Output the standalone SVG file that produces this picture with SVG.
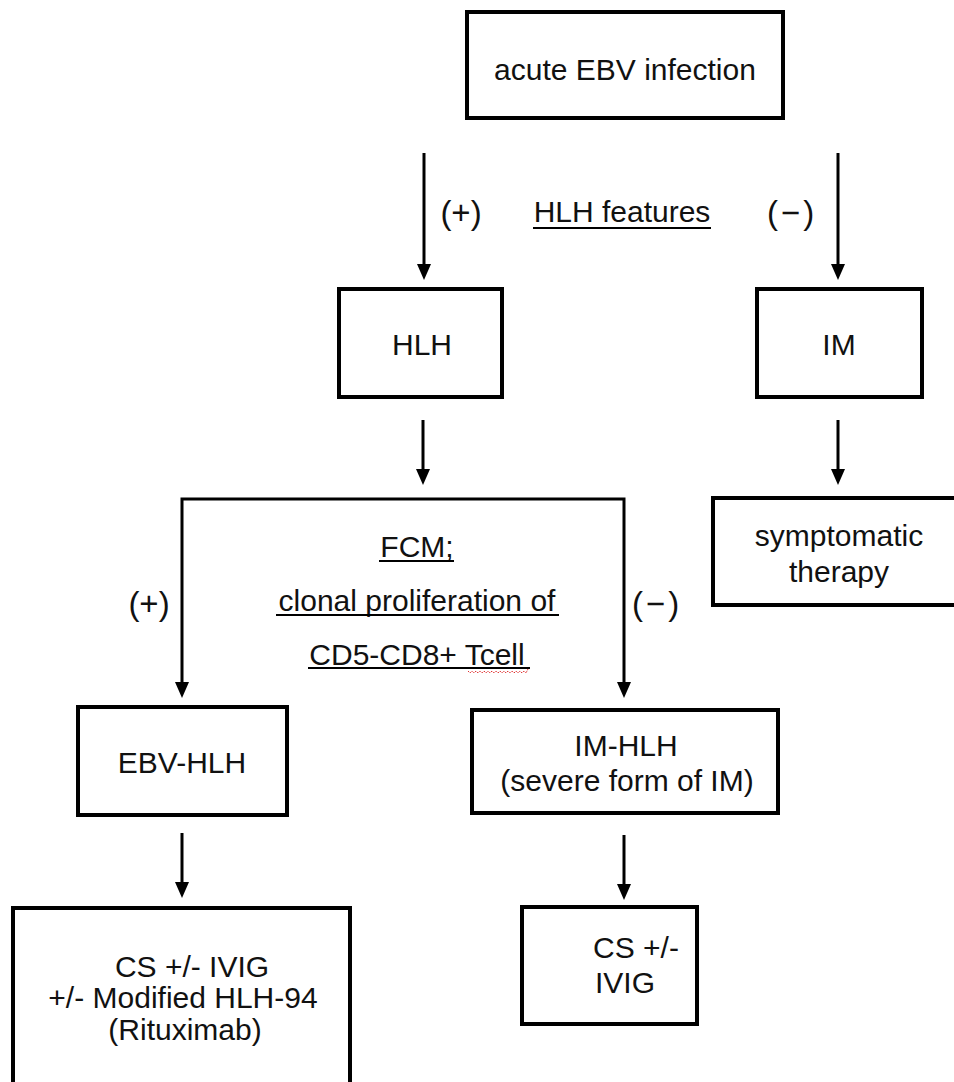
<svg xmlns="http://www.w3.org/2000/svg" width="954" height="1082" viewBox="0 0 954 1082">
<style>
.box{fill:#fff;stroke:#000;stroke-width:4}
.t{font-family:"Liberation Sans",Arial,Helvetica,sans-serif;font-size:30px;fill:#111;text-anchor:middle}
.lbl{font-family:"Liberation Sans",Arial,Helvetica,sans-serif;font-size:30px;fill:#111;text-anchor:middle}
.par{font-family:"Liberation Sans",Arial,Helvetica,sans-serif;font-size:33px;fill:#111;text-anchor:middle}
.c{fill:none;stroke:#000;stroke-width:3}
.ul{stroke:#000;stroke-width:2}
</style>
<defs>
<marker id="ah" viewBox="0 0 16 14" refX="8" refY="7" markerWidth="16" markerHeight="14" markerUnits="userSpaceOnUse" orient="auto-start-reverse">
<path d="M0,0 L16,7 L0,14 z" fill="#000"/>
</marker>
</defs>
<rect width="954" height="1082" fill="#fff"/>

<g id="connectors">
<line class="c" x1="424" y1="153" x2="424" y2="272" marker-end="url(#ah)"/>
<line class="c" x1="838" y1="153" x2="838" y2="272" marker-end="url(#ah)"/>
<line class="c" x1="423" y1="420" x2="423" y2="477" marker-end="url(#ah)"/>
<line class="c" x1="838" y1="420" x2="838" y2="477" marker-end="url(#ah)"/>
<path class="c" d="M182,690 V499 H624 V690" marker-start="url(#ah)" marker-end="url(#ah)"/>
<line class="c" x1="182" y1="833" x2="182" y2="890" marker-end="url(#ah)"/>
<line class="c" x1="624" y1="835" x2="624" y2="892" marker-end="url(#ah)"/>
</g>

<g id="labels">
<text class="par" x="461" y="224">(+)</text>
<text class="lbl" x="622" y="222">HLH features</text>
<line class="ul" x1="533" y1="228" x2="711" y2="228"/>
<text class="par" x="792" y="224" letter-spacing="3">(−)</text>
<text class="par" x="149" y="615">(+)</text>
<text class="par" x="657" y="615" letter-spacing="3">(−)</text>
<text class="lbl" x="417" y="557">FCM;</text>
<line class="ul" x1="379" y1="561" x2="454" y2="561"/>
<text class="lbl" x="417" y="611">clonal proliferation of</text>
<line class="ul" x1="276" y1="615" x2="559" y2="615"/>
<text class="lbl" x="417" y="665">CD5-CD8+ Tcell</text>
<line class="ul" x1="308" y1="668" x2="530" y2="668"/>
<path d="M468,671 l2,2 l2,-2 l2,2 l2,-2 l2,2 l2,-2 l2,2 l2,-2 l2,2 l2,-2 l2,2 l2,-2 l2,2 l2,-2 l2,2 l2,-2 l2,2 l2,-2 l2,2 l2,-2 l2,2 l2,-2 l2,2 l2,-2 l2,2 l2,-2 l2,2 l2,-2 l2,2 l2,-4" fill="none" stroke="#e03030" stroke-width="1" stroke-dasharray="1.5 1"/>
</g>

<g id="node-acute">
<rect class="box" x="467" y="12" width="316" height="106"/>
<text class="t" x="625" y="80">acute EBV infection</text>
</g>
<g id="node-hlh">
<rect class="box" x="339" y="289" width="163" height="108"/>
<text class="t" x="422" y="355">HLH</text>
</g>
<g id="node-im">
<rect class="box" x="757" y="289" width="165" height="108"/>
<text class="t" x="839" y="355">IM</text>
</g>
<g id="node-symptomatic">
<rect class="box" x="713" y="498" width="250" height="107"/>
<text class="t" x="839" y="546">symptomatic</text>
<text class="t" x="839" y="582">therapy</text>
</g>
<g id="node-ebvhlh">
<rect class="box" x="78" y="707" width="209" height="108"/>
<text class="t" x="182" y="773">EBV-HLH</text>
</g>
<g id="node-imhlh">
<rect class="box" x="472" y="710" width="306" height="103"/>
<text class="t" x="626" y="756">IM-HLH</text>
<text class="t" x="627" y="791">(severe form of IM)</text>
</g>
<g id="node-cs-ebv">
<rect class="box" x="13" y="908" width="337" height="190"/>
<text class="t" x="192" y="977">CS +/- IVIG</text>
<text class="t" x="183" y="1008">+/- Modified HLH-94</text>
<text class="t" x="185" y="1040">(Rituximab)</text>
</g>
<g id="node-cs-im">
<rect class="box" x="522" y="907" width="175" height="117"/>
<text class="t" x="636" y="958">CS +/-</text>
<text class="t" x="625" y="993">IVIG</text>
</g>
</svg>
